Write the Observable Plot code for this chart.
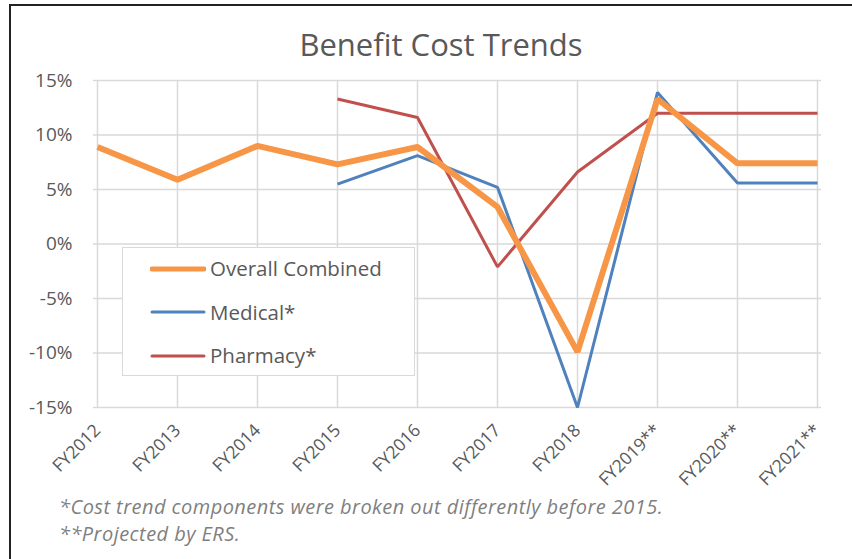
<!DOCTYPE html>
<html>
<head>
<meta charset="utf-8">
<script src="https://cdn.jsdelivr.net/npm/d3@7"></script>
<script src="https://cdn.jsdelivr.net/npm/@observablehq/plot@0.6"></script>
<style>
  html, body { margin: 0; padding: 0; background: #fff; }
  #wrap { position: relative; width: 852px; height: 559px; overflow: hidden; font-family: "Open Sans", sans-serif; color: #595959; }
  #frame { position: absolute; left: 9px; top: 4px; width: 900px; height: 600px; border-left: 2px solid #222; border-top: 2px solid #222; box-sizing: border-box; pointer-events: none; }
  #title { position: absolute; left: 0; width: 882px; top: 24px; text-align: center; font-size: 31px; line-height: 40px; color: #595959; }
  #chart { position: absolute; left: 0; top: 0; }
  #legend { position: absolute; left: 122px; top: 247px; width: 293px; height: 129px; background: #fff; border: 1.5px solid #d9d9d9; box-sizing: border-box; }
  .item { position: absolute; left: 27px; display: flex; align-items: center; font-size: 20.5px; line-height: 29px; color: #595959; }
  .item svg { margin-right: 4px; }
  #notes { position: absolute; left: 59px; top: 493px; font-style: italic; font-size: 20px; letter-spacing: 0.45px; color: #7f7f7f; line-height: 27px; }
</style>
</head>
<body>
<div id="wrap">
  <div id="chart"></div>
  <div id="title">Benefit Cost Trends</div>
  <div id="legend"></div>
  <div id="notes"></div>
  <div id="frame"></div>
</div>
<script>
const categories = ["FY2012","FY2013","FY2014","FY2015","FY2016","FY2017","FY2018","FY2019**","FY2020**","FY2021**"];
const overall  = [8.9, 5.9, 9.0, 7.3, 8.9, 3.4, -9.9, 13.3, 7.4, 7.4];
const medical  = [null, null, null, 5.5, 8.1, 5.2, -15.0, 13.9, 5.6, 5.6];
const pharmacy = [null, null, null, 13.3, 11.6, -2.1, 6.6, 12.0, 12.0, 12.0];
const seriesNames = ["Overall Combined", "Medical*", "Pharmacy*"];
const seriesColors = ["#F79646", "#4F81BD", "#C0504D"];
const seriesWidths = [6, 3, 3];
const yTicks = [-15, -10, -5, 0, 5, 10, 15];
const notes = ["*Cost trend components were broken out differently before 2015.", "**Projected by ERS."];

const allSeries = [overall, medical, pharmacy];
const rows = [];
allSeries.forEach((vals, s) => {
  vals.forEach((v, i) => {
    if (v !== null) rows.push({series: seriesNames[s], cat: categories[i], value: v});
  });
});

const lineMarks = [2, 1, 0].map(s => Plot.line(rows.filter(d => d.series === seriesNames[s]), {
  x: "cat", y: "value", stroke: seriesColors[s], strokeWidth: seriesWidths[s],
  strokeLinejoin: "miter", strokeLinecap: "butt"
}));

const chart = Plot.plot({
  width: 852,
  height: 559,
  marginLeft: 93,
  marginRight: 31,
  marginTop: 80,
  marginBottom: 152,
  style: {fontFamily: "'Open Sans', sans-serif", background: "transparent", color: "#595959"},
  x: {type: "point", domain: categories, padding: 0, label: null},
  y: {domain: [-15, 15], label: null},
  marks: [
    Plot.ruleY(yTicks, {stroke: "#d9d9d9", strokeWidth: 1.5}),
    Plot.ruleX(categories, {stroke: "#d9d9d9", strokeWidth: 1.5}),
    Plot.axisY(yTicks, {tickSize: 0, tickPadding: 21, tickFormat: d => d + "%", fontSize: 19, fill: "#595959"}),
    Plot.axisX({tickSize: 0, tickPadding: 20, tickRotate: -45, fontSize: 17.5, fill: "#595959"}),
    ...lineMarks
  ]
});
document.getElementById("chart").appendChild(chart);

// legend
const legend = document.getElementById("legend");
seriesNames.forEach((name, s) => {
  const item = document.createElement("div");
  item.className = "item";
  item.style.top = (6 + s * 43.5) + "px";
  item.innerHTML = `<svg width="56" height="10"><line x1="2" x2="54" y1="5" y2="5" stroke="${seriesColors[s]}" stroke-width="${seriesWidths[s] === 6 ? 5 : 3}" stroke-linecap="round"/></svg><span>${name}</span>`;
  legend.appendChild(item);
});

document.getElementById("notes").innerHTML = notes.map(n => `<div>${n}</div>`).join("");
</script>
</body>
</html>
